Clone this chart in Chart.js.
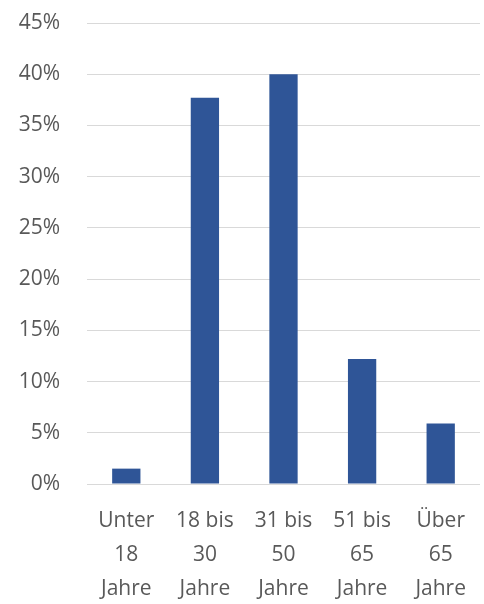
<!DOCTYPE html>
<html lang="de">
<head>
    <meta charset="UTF-8">
    <title>Altersverteilung</title>
    <script src="https://cdn.jsdelivr.net/npm/chart.js"></script>
    <style>
        html, body { margin: 0; padding: 0; background: #fff; }
        #wrap { width: 484px; height: 604px; }
    </style>
</head>
<body>
    <div id="wrap"><canvas id="ageChart"></canvas></div>

    <script>
        // Kategorien (mehrzeilig wie im Original)
        const labels = [
            ["Unter", "18", "Jahre"],
            ["18 bis", "30", "Jahre"],
            ["31 bis", "50", "Jahre"],
            ["51 bis", "65", "Jahre"],
            ["Über", "65", "Jahre"]
        ];
        // Anteile in Prozent
        const anteile = [1.5, 37.7, 40.0, 12.2, 5.9];
        const yMax = 45;
        const yStep = 5;

        const grau = "#595959";
        const font = { family: "'Open Sans', sans-serif", size: 21 };

        const ctx = document.getElementById("ageChart").getContext("2d");
        new Chart(ctx, {
            type: "bar",
            data: {
                labels: labels,
                datasets: [{
                    data: anteile,
                    backgroundColor: "#2F5597",
                    barPercentage: 0.36,
                    categoryPercentage: 1.0
                }]
            },
            options: {
                responsive: true,
                maintainAspectRatio: false,
                animation: false,
                layout: { padding: { top: 23, right: 4, left: 0, bottom: 0 } },
                plugins: {
                    legend: { display: false },
                    tooltip: { enabled: false }
                },
                scales: {
                    x: {
                        grid: { display: false },
                        border: { display: false },
                        ticks: {
                            color: grau,
                            font: { ...font, lineHeight: 1.62 },
                            padding: 12,
                            maxRotation: 0,
                            autoSkip: false
                        },
                        afterFit: s => { s.height = 120; }
                    },
                    y: {
                        min: 0,
                        max: yMax,
                        grid: { color: "#d9d9d9", lineWidth: 1, drawTicks: false },
                        border: { display: false },
                        ticks: {
                            stepSize: yStep,
                            color: grau,
                            font: font,
                            padding: 27,
                            callback: v => v + "%"
                        },
                        afterFit: s => {
                            s.width = 87;
                            s.paddingTop = 0;
                            s.paddingBottom = 0;
                        }
                    }
                }
            }
        });
    </script>
</body>
</html>
